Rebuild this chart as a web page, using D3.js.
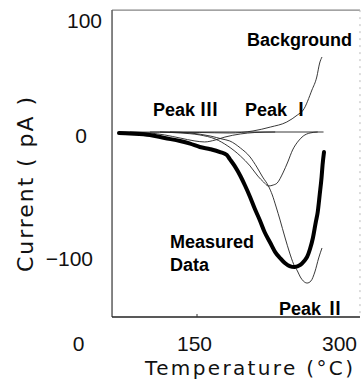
<!DOCTYPE html>
<html>
<head>
<meta charset="utf-8">
<script src="https://cdn.jsdelivr.net/npm/d3@7"></script>
<style>
    body { margin: 0; background: #fff; }
    svg { display: block; }
</style>
</head>
<body>
<div id="chart"></div>
<script>
// temperature (deg C) / current (pA) pairs
var measured = [[53, -0.8], [67, -1.2], [93, -2.4], [112, -4.9], [132, -7.3], [145, -9.5],
    [156, -12.2], [167, -14], [177, -16.3], [184, -18.7], [187, -22], [192, -27.6],
    [198, -35.8], [203, -43.9], [208, -52.8], [213, -62.6], [218, -71.5], [223, -81.3],
    [229, -90.2], [234, -97.6], [239, -102.4], [244, -106.5], [249, -109], [254, -109.8],
    [260, -108.1], [264, -104.9], [267, -101.6], [270, -95.1], [273, -86.2], [276, -73.2],
    [278, -65], [280, -51.2], [282, -36.6], [283, -26.8], [284.5, -16.3]];
var peak1 = [[106, 0], [132, -0.8], [156, -2.4], [172, -5.7], [185, -11.4], [198, -19.5],
    [208, -27.6], [216, -35.8], [222, -40.7], [227, -43.9], [232, -43.1], [236, -41.5],
    [242, -33.3], [247, -24.4], [252, -14.6], [258, -7.3], [263, -3.3], [270, -0.8], [278, 0]];
var peak2 = [[119, 0], [145, -0.8], [167, -3.3], [179, -5.7], [187, -7.3], [198, -13],
    [208, -20.3], [215, -28.5], [221, -36.6], [227, -43.9], [231, -51.2], [235, -61],
    [239, -71.5], [244, -85.4], [249, -98.4], [253, -107.3], [257, -113], [260, -117.9],
    [263, -121.1], [267, -122.8], [271, -121.1], [275, -113.8], [279, -102.4], [282.4, -94.3]];
var peak3 = [[67, 0], [93, -0.8], [112, -2.4], [132, -4.9], [151, -7.3], [161, -8.1],
    [172, -6.5], [182, -4.1], [198, -1.6], [213, -0.4], [234, 0]];
var background = [[53, 0], [156, -0.4], [187, -0.8], [211, 0.9], [229, 4.3], [246, 8.7],
    [257, 14.8], [263, 19.1], [272, 36.5], [277, 47.8], [280, 60], [282.4, 65.2]];
var zeroLine = [[93, 0], [284, 0]];

var xTicks = [0, 150, 300];
var yTicks = [100, 0, -100];
var frameX = [44, 321.7];
var frameY = [106, -150.4];

var width = 361, height = 380;

// the printed axes are not evenly spaced, so the scales are piecewise
var x = d3.scaleLinear().domain([0, 150, 300]).range([78, 194, 339]);
var y = d3.scaleLinear().domain([100, 0, -100]).range([17, 132, 255]);

var svg = d3.select("#chart").append("svg")
    .attr("width", width)
    .attr("height", height);

var tickFont = "'Liberation Sans', Arial, sans-serif";
var titleFont = "'DejaVu Sans', sans-serif";
var cjkFont = "'Noto Sans CJK JP', sans-serif";

// frame
var fl = x(frameX[0]), fr = x(frameX[1]), ft = y(frameY[0]), fb = y(frameY[1]);
svg.append("line").attr("x1", fl).attr("x2", fl).attr("y1", ft).attr("y2", fb)
    .attr("stroke", "#333").attr("stroke-width", 1.2);
svg.append("line").attr("x1", fl).attr("x2", fr).attr("y1", fb).attr("y2", fb)
    .attr("stroke", "#222").attr("stroke-width", 1.4);
svg.append("line").attr("x1", fl).attr("x2", fr).attr("y1", ft).attr("y2", ft)
    .attr("stroke", "#666").attr("stroke-width", 1);
svg.append("line").attr("x1", fr).attr("x2", fr).attr("y1", ft).attr("y2", fb)
    .attr("stroke", "#bbb").attr("stroke-width", 1)
    .attr("stroke-dasharray", "2,5");

// x axis labels
var xAxis = d3.axisBottom(x).tickValues(xTicks).tickSize(0).tickPadding(19)
    .tickFormat(function(d) { return d; });
var gx = svg.append("g").attr("transform", "translate(0," + fb + ")").call(xAxis);
gx.select(".domain").remove();
gx.selectAll("text").attr("font-family", tickFont).attr("font-size", 21).attr("fill", "#111");

svg.append("line").attr("x1", x(150) + 3).attr("x2", x(150) + 3)
    .attr("y1", fb - 3).attr("y2", fb).attr("stroke", "#333");

// y axis labels (right edges as printed)
var yLabelRight = { "100": 102, "0": 87, "-100": 93 };
svg.selectAll(".ytick").data(yTicks).enter().append("text")
    .attr("class", "ytick")
    .attr("x", function(d) { return yLabelRight[d]; })
    .attr("y", function(d) { return y(d) + 3; })
    .attr("dy", "0.36em")
    .attr("text-anchor", "end")
    .attr("font-family", tickFont)
    .attr("font-size", 21)
    .attr("fill", "#111")
    .text(function(d) { return d < 0 ? "\u2212" + Math.abs(d) : d; });

// titles
svg.append("text")
    .attr("transform", "translate(33,184.5) rotate(-90)")
    .attr("text-anchor", "middle")
    .attr("font-family", titleFont)
    .attr("font-size", 22)
    .attr("textLength", 175)
    .attr("lengthAdjust", "spacing")
    .attr("fill", "#111")
    .text("Current ( pA )");

svg.append("text")
    .attr("x", 249)
    .attr("y", 375)
    .attr("text-anchor", "middle")
    .attr("font-family", titleFont)
    .attr("font-size", 20)
    .attr("textLength", 208)
    .attr("lengthAdjust", "spacing")
    .attr("fill", "#111")
    .text("Temperature (\u00b0C)");

// curves
var line = d3.line()
    .x(function(d) { return x(d[0]); })
    .y(function(d) { return y(d[1]); })
    .curve(d3.curveMonotoneX);

var thin = [zeroLine, peak3, peak1, peak2, background];
svg.selectAll(".thin").data(thin).enter().append("path")
    .attr("class", "thin")
    .attr("d", line)
    .attr("fill", "none")
    .attr("stroke", "#222")
    .attr("stroke-width", 0.9);

svg.append("path")
    .datum(measured)
    .attr("d", line)
    .attr("fill", "none")
    .attr("stroke", "#000")
    .attr("stroke-width", 4)
    .attr("stroke-linecap", "round")
    .attr("stroke-linejoin", "round");

// curve labels; roman numerals come from the CJK font like the original
var labels = [
    { text: "Background", num: "", x: 247, y: 46 },
    { text: "Peak ", num: "\u2162", x: 153, y: 116 },
    { text: "Peak ", num: "\u2160", x: 245, y: 116 },
    { text: "Measured", num: "", x: 170, y: 248 },
    { text: "Data", num: "", x: 170, y: 271 },
    { text: "Peak ", num: "\u2161", x: 279, y: 315 }
];
var lbl = svg.selectAll(".lbl").data(labels).enter().append("text")
    .attr("class", "lbl")
    .attr("x", function(d) { return d.x; })
    .attr("y", function(d) { return d.y; })
    .attr("font-family", tickFont)
    .attr("font-weight", "bold")
    .attr("font-size", 18)
    .attr("fill", "#000");
lbl.append("tspan").text(function(d) { return d.text; });
lbl.append("tspan")
    .attr("font-family", cjkFont)
    .text(function(d) { return d.num; });
</script>
</body>
</html>
